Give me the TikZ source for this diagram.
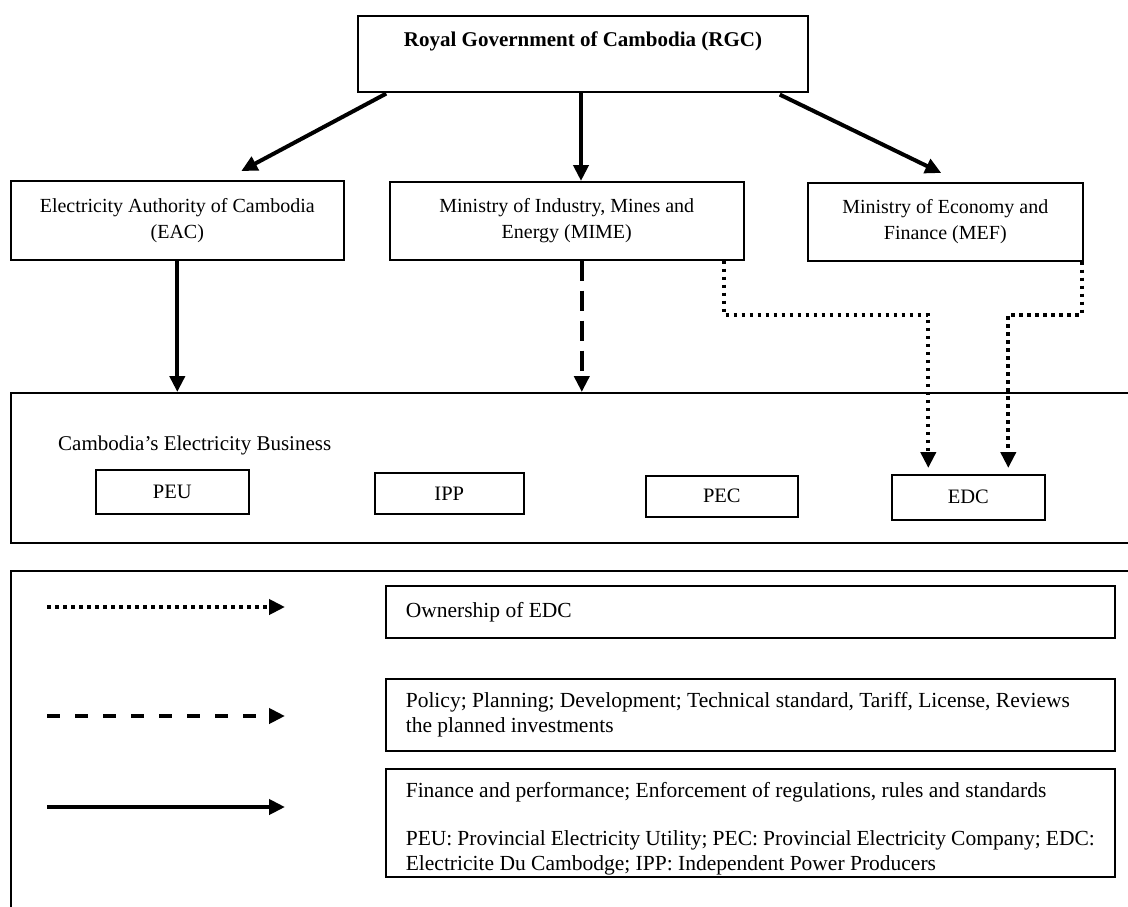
\documentclass[tikz,border=0pt]{standalone}
\usepackage{fontspec}
\setmainfont{Liberation Serif}
\usetikzlibrary{arrows.meta}

\tikzset{
  box/.style={draw,line width=1.6pt,inner sep=0pt,align=center,anchor=north west,
    font=\fontsize{20}{26}\selectfont},
  smallbox/.style={box,font=\fontsize{20.5}{26}\selectfont},
  notebox/.style={box,align=flush left,inner xsep=20pt,text width=689pt,minimum width=729pt,
    font=\fontsize{21.5}{25}\selectfont},
  solidline/.style={line width=4pt,-{Triangle[length=16pt,width=15pt]}},
  dotline/.style={line width=4pt,dash pattern=on 3.5pt off 4.5pt,-{Triangle[length=16pt,width=15pt]}},
  dashline/.style={line width=4pt,dash pattern=on 20pt off 10pt,-{Triangle[length=16pt,width=15pt]}}
}

\begin{document}
\begin{tikzpicture}[x=1pt,y=-1pt]
\useasboundingbox (0,0) rectangle (1128,907);
\clip (0,0) rectangle (1128,907);
% top level
\node[box,anchor=north,minimum width=450pt,text height=31pt,text depth=45pt,
  font=\fontsize{21}{26}\selectfont\bfseries] (rgc) at (583,15) {Royal Government of Cambodia (RGC)};
\node[box,minimum width=333pt,minimum height=79pt] (eac) at (10,180) {Electricity Authority of Cambodia\\(EAC)};
\node[box,minimum width=354pt,minimum height=78pt] (mime) at (389,181) {Ministry of Industry, Mines and\\Energy (MIME)};
\node[box,minimum width=275pt,minimum height=78pt] (mef) at (807,182) {Ministry of Economy and\\Finance (MEF)};
% business
\node[box,minimum width=1130pt,minimum height=150pt] (biz) at (10,392) {};
\node[anchor=base west,inner sep=0pt,font=\fontsize{21}{26}\selectfont] (biztitle) at (58,450) {Cambodia’s Electricity Business};
\node[smallbox,minimum width=153pt,minimum height=44pt] (peu) at (95,469) {PEU};
\node[smallbox,minimum width=149pt,minimum height=41pt] (ipp) at (374,472) {IPP};
\node[smallbox,minimum width=152pt,minimum height=41pt] (pec) at (645,475) {PEC};
\node[smallbox,minimum width=153pt,minimum height=45pt] (edc) at (891,474) {EDC};
% arrows
\draw[solidline] ([xshift=29pt,yshift=-1pt]rgc.south west) -- ([xshift=64pt,yshift=9pt]eac.north);
\draw[solidline] ([xshift=-2pt]rgc.south) -- ([xshift=-2pt]rgc.south |- mime.north);
\draw[solidline] ([xshift=-29pt,yshift=-2pt]rgc.south east) -- ([xshift=-4pt,yshift=9pt]mef.north);
\draw[solidline] (eac.south) -- (eac.south |- biz.north);
\draw[dashline] ([xshift=15pt]mime.south) -- ([xshift=15pt]mime.south |- biz.north);
\draw[dotline,shorten >=6pt] ([xshift=-21pt]mime.south east) -- ++(0,54) -| ([xshift=-40pt]edc.north);
\draw[dotline,shorten >=6pt] ([xshift=-2pt]mef.south east) -- ++(0,53) -| ([xshift=40pt]edc.north);
% legend
\node[box,minimum width=1130pt,minimum height=350pt] (legend) at (10,570) {};
\node[notebox,minimum height=52pt] (own) at (385,585) {Ownership of EDC};
\node[notebox,minimum height=72pt] (policy) at (385,678) {Policy; Planning; Development; Technical standard, Tariff, License, Reviews\\the planned investments};
\node[notebox,minimum height=108pt] (finance) at (385,768) {\rule{0pt}{28pt}Finance and performance; Enforcement of regulations, rules and standards\\[23pt]PEU: Provincial Electricity Utility; PEC: Provincial Electricity Company; EDC:\\Electricite Du Cambodge; IPP: Independent Power Producers};
\coordinate (dotA) at (47,607);
\coordinate (dotB) at (285,607);
\coordinate (dashA) at (47,716);
\coordinate (dashB) at (285,716);
\coordinate (solA) at (47,807);
\coordinate (solB) at (285,807);
\draw[dotline] (dotA) -- (dotB);
\draw[dashline,dash pattern=on 13pt off 15pt] (dashA) -- (dashB);
\draw[solidline] (solA) -- (solB);
\end{tikzpicture}
\end{document}
